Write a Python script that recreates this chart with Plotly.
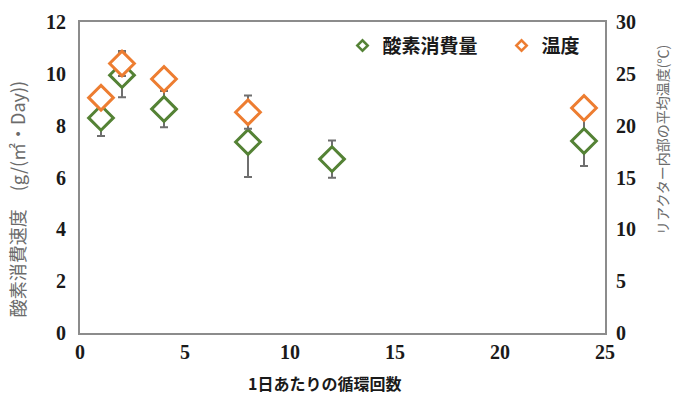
import plotly.graph_objects as go

# Circulation count per day
cycles = [1, 2, 4, 8, 12, 24]
# Oxygen consumption rate g/(m2·Day) and its error
oxygen = [8.30, 9.95, 8.64, 7.37, 6.71, 7.41]
oxygen_err = [0.70, 0.85, 0.70, 1.35, 0.72, 0.97]
# Mean reactor temperature (°C) and its error
temp_cycles = [1, 2, 4, 8, 24]
temperature = [22.7, 26.0, 24.5, 21.3, 21.7]
temperature_err = [0.8, 1.2, 0.8, 1.6, 0.8]

x_ticks = [0, 5, 10, 15, 20, 25]
y_ticks = [0, 2, 4, 6, 8, 10, 12]
y2_ticks = [0, 5, 10, 15, 20, 25, 30]

GREEN = "#548235"
ORANGE = "#ED7D31"
ERR = "#6f6f6f"
FRAME = "#8c8c8c"
TICK_FONT = dict(family="Liberation Serif", size=20, color="#1a1a1a", weight="bold")
CJK = "Noto Sans CJK JP"

fig = go.Figure()

fig.add_trace(go.Scatter(
    x=cycles, y=oxygen, mode="markers", name="酸素消費量", showlegend=False,
    marker=dict(symbol="diamond", size=19, color="white",
                line=dict(color=GREEN, width=3)),
    error_y=dict(type="data", array=oxygen_err, color=ERR, thickness=2, width=4),
))
fig.add_trace(go.Scatter(
    x=temp_cycles, y=temperature, mode="markers", name="温度", showlegend=False,
    yaxis="y2",
    marker=dict(symbol="diamond", size=19, color="white",
                line=dict(color=ORANGE, width=3)),
    error_y=dict(type="data", array=temperature_err, color=ERR, thickness=2, width=4),
))

# small legend entries
fig.add_trace(go.Scatter(
    x=[None], y=[None], mode="markers", name="酸素消費量　",
    marker=dict(symbol="diamond", size=8, color="white",
                line=dict(color=GREEN, width=2.5)),
))
fig.add_trace(go.Scatter(
    x=[None], y=[None], mode="markers", name="温度", yaxis="y2",
    marker=dict(symbol="diamond", size=8, color="white",
                line=dict(color=ORANGE, width=2.5)),
))

fig.update_layout(
    width=676, height=395,
    margin=dict(l=80, r=71, t=22, b=62),
    paper_bgcolor="white", plot_bgcolor="white",
    showlegend=True,
    legend=dict(
        orientation="h", x=0.50, y=0.985, xanchor="left", yanchor="top",
        font=dict(family=CJK, size=19, color="#1a1a1a", weight="bold"),
        bgcolor="rgba(0,0,0,0)", itemwidth=30, tracegroupgap=0,
    ),
    xaxis=dict(
        range=[0, 25], tickvals=x_ticks, ticks="", showgrid=False, zeroline=False,
        showline=True, linecolor=FRAME, linewidth=2, mirror=True,
        tickfont=TICK_FONT,
    ),
    yaxis=dict(
        range=[0, 12], tickvals=y_ticks, ticks="", showgrid=False, zeroline=False,
        showline=True, linecolor=FRAME, linewidth=2, mirror=True,
        tickfont=TICK_FONT, ticklabelstandoff=8,
    ),
    yaxis2=dict(
        range=[0, 30], tickvals=y2_ticks, overlaying="y", side="right",
        ticks="", showgrid=False, zeroline=False, showline=False,
        tickfont=TICK_FONT, ticklabelstandoff=10,
    ),
    annotations=[
        dict(text="酸素消費速度　(g/(㎡・Day))", xref="paper", yref="paper",
             x=-0.12, y=0.43, xanchor="center", yanchor="middle", textangle=-90,
             showarrow=False, font=dict(family=CJK, size=18, color="#6b6b6b")),
        dict(text="リアクター内部の平均温度(℃)", xref="paper", yref="paper",
             x=1.108, y=0.62, xanchor="center", yanchor="middle", textangle=-90,
             showarrow=False, font=dict(family=CJK, size=14, color="#6b6b6b")),
        dict(text="1日あたりの循環回数", xref="paper", yref="paper",
             x=0.465, y=-0.16, xanchor="center", yanchor="middle",
             showarrow=False, font=dict(family=CJK, size=16, color="#1a1a1a", weight="bold")),
    ],
)

fig.write_html("out.html")
